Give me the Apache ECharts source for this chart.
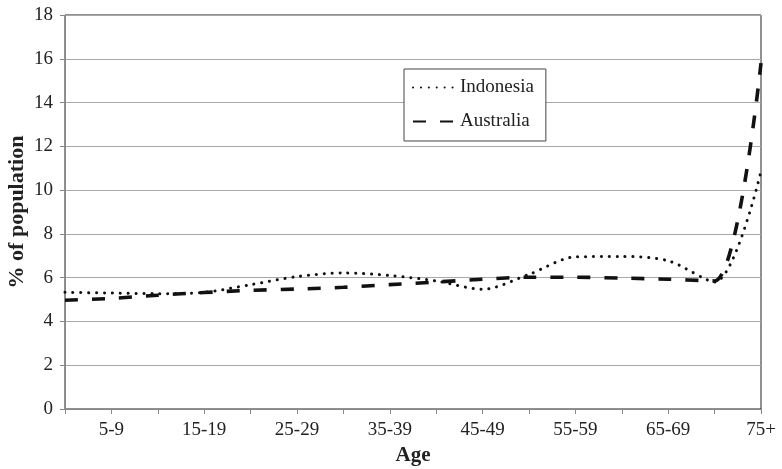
<!DOCTYPE html>
<html>
<head>
<meta charset="utf-8">
<script src="https://cdn.jsdelivr.net/npm/echarts@6/dist/echarts.min.js"></script>
<style>
  html, body { margin: 0; padding: 0; background: #fff; }
  #chart { width: 782px; height: 469px; }
</style>
</head>
<body>
<div id="chart"></div>
<script>
// age groups, only every other one gets a label
var ages = ['0-4', '5-9', '10-14', '15-19', '20-24', '25-29', '30-34', '35-39',
            '40-44', '45-49', '50-54', '55-59', '60-64', '65-69', '70-74', '75+'];
var indonesia = [5.33, 5.3, 5.27, 5.33, 5.68, 6.05, 6.22, 6.1, 5.85, 5.47, 6.15, 6.95, 6.97, 6.77, 5.8, 10.85];
var australia = [4.97, 5.05, 5.2, 5.32, 5.42, 5.48, 5.56, 5.68, 5.8, 5.93, 6.02, 6.02, 5.98, 5.93, 5.85, 15.8];
var yTicks = [0, 2, 4, 6, 8, 10, 12, 14, 16, 18];

var font = 'Liberation Serif';
var myChart = echarts.init(document.getElementById('chart'), null, { renderer: 'canvas' });
var option = {
    animation: false,
    textStyle: { fontFamily: font },
    grid: {
        left: 65,
        right: 21,
        top: 15,
        bottom: 60,
        containLabel: false,
        outerBoundsMode: 'none',
        show: true,
        borderColor: '#222',
        borderWidth: 1
    },
    legend: {
        orient: 'vertical',
        left: 404,
        top: 69,
        padding: [9, 12, 10, 8],
        itemGap: 15,
        itemWidth: 42,
        itemHeight: 18,
        backgroundColor: '#fff',
        borderColor: '#444',
        borderWidth: 1,
        borderRadius: 0,
        itemStyle: { opacity: 0 },
        textStyle: { fontFamily: font, fontSize: 19, color: '#222' },
        data: ['Indonesia', 'Australia']
    },
    xAxis: {
        type: 'category',
        data: ages,
        boundaryGap: false,
        name: 'Age',
        nameLocation: 'middle',
        nameGap: 36,
        nameMoveOverlap: false,
        nameTextStyle: { fontFamily: font, fontSize: 21, fontWeight: 'bold', color: '#222' },
        axisLine: { show: true, lineStyle: { color: '#888', width: 1 } },
        axisTick: { show: true, interval: 0, length: 5, lineStyle: { color: '#888' } },
        axisLabel: {
            interval: function (i) { return i % 2 === 1; },
            margin: 12,
            fontFamily: font,
            fontSize: 19,
            color: '#222'
        },
        splitLine: { show: false }
    },
    yAxis: {
        type: 'value',
        min: yTicks[0],
        max: yTicks[yTicks.length - 1],
        interval: 2,
        name: '% of population',
        nameLocation: 'middle',
        nameGap: 37,
        nameMoveOverlap: false,
        nameTextStyle: { fontFamily: font, fontSize: 22, fontWeight: 'bold', color: '#222' },
        axisLine: { show: true, lineStyle: { color: '#888', width: 1 } },
        axisTick: { show: true, length: 5, lineStyle: { color: '#888' } },
        axisLabel: { margin: 12, fontFamily: font, fontSize: 19, color: '#222' },
        splitLine: { show: true, lineStyle: { color: '#a8a8a8', width: 1 } }
    },
    series: [
        {
            name: 'Indonesia',
            type: 'line',
            data: indonesia,
            smooth: 0.3,
            symbol: 'none',
            color: '#111',
            lineStyle: { color: '#111', width: 3, type: [0.1, 7.8], cap: 'round' }
        },
        {
            name: 'Australia',
            type: 'line',
            data: australia,
            smooth: 0.3,
            symbol: 'none',
            color: '#111',
            lineStyle: { color: '#111', width: 3.6, type: [13, 14] }
        }
    ]
};
option && myChart.setOption(option);
</script>
</body>
</html>
